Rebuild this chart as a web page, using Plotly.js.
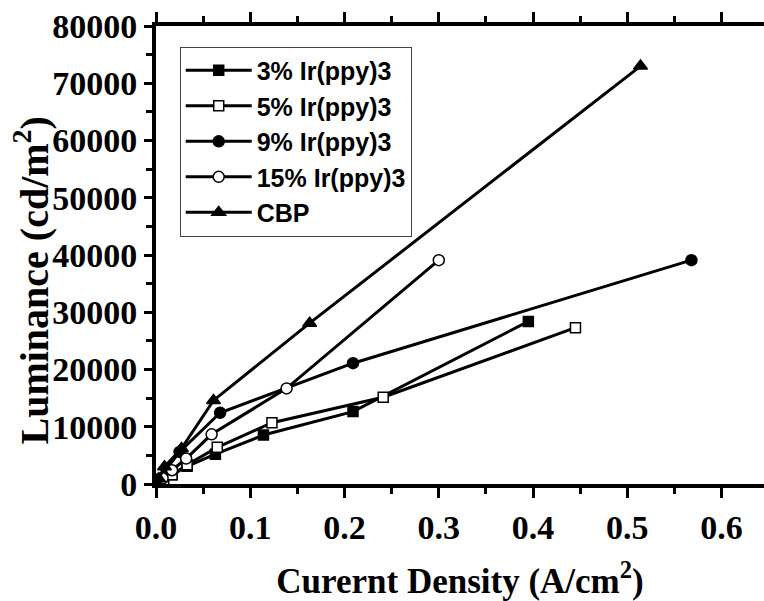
<!DOCTYPE html>
<html>
<head>
<meta charset="utf-8">
<script src="https://cdn.plot.ly/plotly-3.0.1.min.js"></script>
<style>html,body{margin:0;padding:0;background:#fff;}#chart{width:764px;height:601px;}</style>
</head>
<body>
<div id="chart"></div>
<script>
// Data
const seriesNames = ["3% Ir(ppy)3", "5% Ir(ppy)3", "9% Ir(ppy)3", "15% Ir(ppy)3", "CBP"];

const x3 = [0.002, 0.008, 0.017, 0.033, 0.063, 0.114, 0.209, 0.395];
const y3 = [100, 700, 1600, 3100, 5200, 8550, 12650, 28400];

const x5 = [0.002, 0.008, 0.017, 0.033, 0.065, 0.123, 0.241, 0.445];
const y5 = [100, 650, 1600, 3350, 6400, 10700, 15150, 27300];

const x9 = [0.001, 0.004, 0.011, 0.025, 0.068, 0.209, 0.568];
const y9 = [200, 900, 2600, 5600, 12450, 21100, 39100];

const x15 = [0.002, 0.007, 0.017, 0.032, 0.059, 0.1385, 0.300];
const y15 = [150, 1000, 2400, 4450, 8680, 16700, 39100];

const xCBP = [0.001, 0.003, 0.009, 0.027, 0.061, 0.163, 0.514];
const yCBP = [150, 900, 3000, 6200, 14600, 28100, 73000];

const xTickVals = [0, 0.1, 0.2, 0.3, 0.4, 0.5, 0.6];
const xTickText = ["0.0", "0.1", "0.2", "0.3", "0.4", "0.5", "0.6"];
const yTickVals = [0, 10000, 20000, 30000, 40000, 50000, 60000, 70000, 80000];
const yTickText = ["0", "10000", "20000", "30000", "40000", "50000", "60000", "70000", "80000"];

const xTitle = "Curernt Density (A/cm<sup>2</sup>)";
const yTitle = "Luminance (cd/m<sup>2</sup>)";

const xRange = [0, 0.645];
const yRange = [0, 80000];

function mk(name, x, y, symbol, size, fill) {
  return {
    type: "scatter", mode: "lines+markers", name: name, x: x, y: y,
    line: {color: "#000", width: 3},
    marker: {symbol: symbol, size: size, color: fill, line: {color: "#000", width: 1.5}}
  };
}

const traces = [
  mk(seriesNames[0], x3, y3, "square", 10, "#000"),
  mk(seriesNames[1], x5, y5, "square", 10, "#fff"),
  mk(seriesNames[2], x9, y9, "circle", 11, "#000"),
  mk(seriesNames[3], x15, y15, "circle", 11, "#fff"),
  mk(seriesNames[4], xCBP, yCBP, "triangle-up", 12, "#000")
];

const serif = "Liberation Serif, Times New Roman, serif";
const sans = "Liberation Sans, Arial, sans-serif";

const layout = {
  width: 764, height: 601,
  margin: {l: 156, r: 0, t: 26, b: 117},
  paper_bgcolor: "#fff", plot_bgcolor: "#fff",
  showlegend: true,
  legend: {
    x: 0.039, y: 0.955, xanchor: "left", yanchor: "top",
    bgcolor: "#fff", bordercolor: "#444", borderwidth: 1,
    font: {family: sans, size: 25, color: "#000", weight: "bold"},
    itemwidth: 66, tracegroupgap: 0
  },
  xaxis: {
    range: xRange, tickvals: xTickVals, ticktext: xTickText,
    ticks: "outside", ticklen: 10, tickwidth: 3, tickcolor: "#000",
    minor: {dtick: 0.05, ticks: "outside", ticklen: 6, tickwidth: 3, tickcolor: "#000"},
    showline: true, linewidth: 4, linecolor: "#000", mirror: "ticks",
    showgrid: false, zeroline: false,
    tickfont: {family: serif, size: 34, color: "#000", weight: "bold"},
    title: {text: xTitle, standoff: 32,
            font: {family: serif, size: 35, color: "#000", weight: "bold"}}
  },
  yaxis: {
    range: yRange, tickvals: yTickVals, ticktext: yTickText,
    ticks: "outside", ticklen: 8, tickwidth: 3, tickcolor: "#000",
    minor: {dtick: 5000, ticks: "outside", ticklen: 6, tickwidth: 3, tickcolor: "#000"},
    showline: true, linewidth: 4, linecolor: "#000",
    showgrid: false, zeroline: false,
    tickfont: {family: serif, size: 34, color: "#000", weight: "bold"}
  },
  annotations: [{
    text: yTitle, textangle: -90, showarrow: false,
    xref: "paper", yref: "paper", x: -0.205, y: 0.445,
    xanchor: "center", yanchor: "middle",
    font: {family: serif, size: 40, color: "#000", weight: "bold"}
  }]
};

Plotly.newPlot("chart", traces, layout, {staticPlot: true, displayModeBar: false});
</script>
</body>
</html>
